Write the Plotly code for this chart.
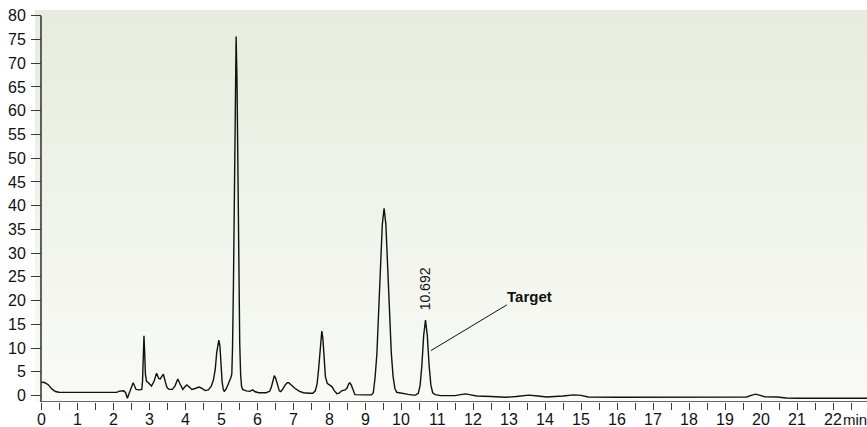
import plotly.graph_objects as go

# Retention time (min) and detector signal
time_min = [
    0.00, 0.10, 0.20, 0.30, 0.40, 0.50, 1.00, 1.50, 2.10, 2.18, 2.30, 2.35, 2.40, 2.45, 2.52, 2.56, 2.60, 2.64, 2.72,
    2.80, 2.82, 2.84, 2.86, 2.88, 2.90, 2.93, 2.97, 3.07, 3.14, 3.21, 3.27, 3.31, 3.36, 3.40, 3.45, 3.50, 3.56,
    3.65, 3.72, 3.80, 3.86, 3.94, 3.99, 4.05, 4.12, 4.19, 4.28, 4.39, 4.47, 4.56, 4.65, 4.73,
    4.79, 4.84, 4.88, 4.91, 4.94, 4.97, 5.00, 5.03, 5.06, 5.09, 5.15, 5.22,
    5.27, 5.30, 5.32, 5.345, 5.37, 5.395, 5.42, 5.445, 5.47, 5.495, 5.52, 5.545, 5.57, 5.60,
    5.70, 5.80, 5.88, 5.95, 6.05, 6.25, 6.35, 6.40, 6.44, 6.48, 6.52, 6.57, 6.62, 6.66, 6.72, 6.78, 6.84, 6.88,
    6.95, 7.06, 7.18, 7.29, 7.45, 7.55, 7.62, 7.67, 7.71, 7.75, 7.78, 7.80, 7.83, 7.86, 7.90, 7.95, 8.02, 8.08,
    8.15, 8.22, 8.28, 8.35, 8.45, 8.50, 8.55, 8.58, 8.62, 8.67, 8.72, 9.00,
    9.18, 9.23, 9.28, 9.33, 9.38, 9.43, 9.48, 9.53, 9.58, 9.63, 9.68, 9.73, 9.78, 9.83, 9.88, 10.00, 10.20, 10.34,
    10.40, 10.48, 10.53, 10.58, 10.63, 10.68, 10.73, 10.78, 10.83, 10.88, 10.95, 11.10,
    11.50, 11.70, 11.80, 11.90, 12.10, 12.50, 12.90, 13.20, 13.55, 13.80, 14.05, 14.50, 14.80, 15.00, 15.20,
    16.00, 17.00, 18.00, 19.00, 19.60, 19.75, 19.85, 19.95, 20.10, 20.45, 20.70, 21.00, 22.00, 22.95,
]
signal = [
    2.80, 2.75, 2.30, 1.40, 0.85, 0.70, 0.68, 0.66, 0.68, 0.95, 1.00, 0.60, -0.55, 0.50, 2.00, 2.70, 2.00, 1.30, 1.20,
    1.30, 3.00, 8.50, 12.60, 9.00, 4.50, 3.00, 2.80, 2.00, 3.00, 4.70, 3.60, 3.50, 4.20, 4.50, 3.00, 1.70, 1.30,
    1.30, 2.00, 3.50, 2.50, 1.30, 1.80, 2.25, 1.80, 1.30, 1.50, 1.80, 1.50, 1.05, 1.20, 2.00,
    3.30, 5.50, 9.00, 11.00, 11.70, 10.50, 6.50, 3.00, 1.40, 0.85, 1.50, 2.60,
    3.70, 4.50, 10.00, 23.00, 45.00, 66.00, 75.60, 66.00, 45.00, 24.00, 11.00, 4.50, 2.00, 1.30,
    1.00, 0.90, 1.20, 0.80, 0.60, 0.60, 0.90, 1.80, 3.30, 4.20, 3.60, 2.00, 1.00, 0.85, 1.40, 2.20, 2.70, 2.70,
    2.20, 1.50, 0.90, 0.60, 0.50, 0.50, 1.00, 2.50, 5.50, 10.00, 13.00, 13.60, 12.00, 8.00, 4.00, 2.60, 2.30, 1.90,
    1.00, 0.40, 0.50, 1.00, 1.20, 1.60, 2.50, 2.70, 2.20, 1.00, 0.20, 0.15,
    0.15, 0.60, 3.80, 8.80, 17.00, 27.00, 36.00, 39.45, 36.00, 27.00, 17.00, 9.00, 4.00, 1.50, 0.70, 0.50, 0.25, 0.10,
    0.10, 0.50, 2.10, 6.40, 12.70, 15.90, 12.70, 6.40, 2.20, 0.60, 0.20, 0.00,
    0.00, 0.25, 0.35, 0.20, -0.10, -0.20, -0.35, -0.20, 0.10, -0.10, -0.30, -0.10, 0.15, 0.05, -0.30,
    -0.35, -0.35, -0.35, -0.35, -0.30, 0.10, 0.30, 0.10, -0.25, -0.30, -0.50, -0.55, -0.55, -0.55,
]

y_ticks = list(range(0, 85, 5))
x_ticks = list(range(0, 23))
x_tick_text = [str(v) for v in x_ticks]
x_unit = "min"

peak_label = "10.692"
peak_time = 10.67
target_label = "Target"

FONT = "Liberation Sans, Arial, sans-serif"
AX = "#3a3a3a"
TXT = "#111111"

X_MIN, X_MAX = -0.1667, 22.944
Y_MIN, Y_MAX = -1.35, 81.2

fig = go.Figure()

# gradient plot background
fig.add_trace(go.Heatmap(
    x=[X_MIN - 1, X_MAX + 1], y=[Y_MIN, Y_MAX], z=[[0, 0], [1, 1]],
    colorscale=[[0, "#F9FAF6"], [1, "#E6ECDE"]], zsmooth="best",
    showscale=False, hoverinfo="skip",
))

fig.add_trace(go.Scatter(
    x=time_min, y=signal, mode="lines",
    line=dict(color=TXT, width=1.4), hoverinfo="skip", showlegend=False,
))

fig.update_layout(
    width=867, height=427,
    margin=dict(l=35, r=0, t=10, b=25),
    paper_bgcolor="white", plot_bgcolor="#F4F6F0",
    font=dict(family=FONT, size=16, color=TXT),
    showlegend=False,
    xaxis=dict(
        range=[X_MIN, X_MAX], tickvals=x_ticks, showticklabels=False,
        ticks="outside", ticklen=7, tickwidth=1.3, tickcolor=AX,
        minor=dict(dtick=0.5, tick0=0, ticks="outside", ticklen=7, tickwidth=1.3, tickcolor=AX, showgrid=False),
        showgrid=False, zeroline=False, showline=False, automargin=False,
    ),
    yaxis=dict(
        range=[Y_MIN, Y_MAX], tickvals=y_ticks,
        ticks="outside", ticklen=10, tickwidth=1.3, tickcolor=AX,
        showgrid=False, zeroline=False, showline=False, automargin=False,
        anchor="free", position=6 / 832,
        ticklabelstandoff=2,
        tickfont=dict(family=FONT, size=16, color=TXT),
    ),
)

# axis lines
fig.add_shape(type="line", xref="x", yref="y", x0=0, x1=0, y0=Y_MIN, y1=80,
              line=dict(color=AX, width=1.6))
fig.add_shape(type="line", xref="x", yref="y", x0=0, x1=X_MAX, y0=Y_MIN, y1=Y_MIN,
              line=dict(color=AX, width=1.6))

# x tick labels placed just below the ticks
for xv, label in zip(x_ticks, x_tick_text):
    fig.add_annotation(x=xv, y=0, xref="x", yref="paper", text=label, showarrow=False,
                       xanchor="center", yanchor="middle", yshift=-17,
                       font=dict(family=FONT, size=16, color=TXT))

# unit after last tick label
fig.add_annotation(x=x_ticks[-1], y=0, xref="x", yref="paper", text=x_unit, showarrow=False,
                   xanchor="left", yanchor="middle", xshift=8, yshift=-17,
                   font=dict(family=FONT, size=15, color=TXT))

# peak retention time label
fig.add_annotation(x=peak_time, y=22.4, xref="x", yref="y", text=peak_label, textangle=-90,
                   showarrow=False, font=dict(family=FONT, size=14, color=TXT))

# target label with leader line
fig.add_shape(type="line", xref="x", yref="y", x0=12.94, y0=19.1, x1=10.83, y1=9.47,
              line=dict(color=TXT, width=1))
fig.add_annotation(x=12.9, y=20.9, xref="x", yref="y", text="<b>" + target_label + "</b>",
                   showarrow=False, xanchor="left",
                   font=dict(family=FONT, size=15, color=TXT))

fig.write_html("out.html")
